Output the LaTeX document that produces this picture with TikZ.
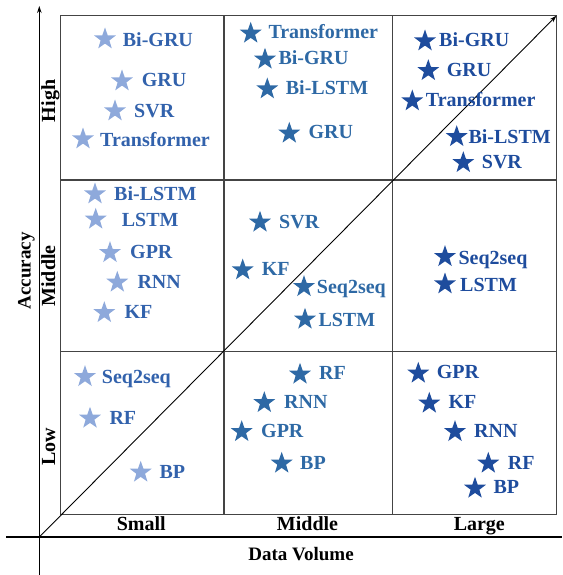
\documentclass[tikz,border=0pt]{standalone}
\usepackage{fontspec}
\setmainfont{Liberation Serif}
\usetikzlibrary{shapes.geometric,arrows.meta}
\definecolor{starA}{HTML}{8EA9DB}
\definecolor{textA}{HTML}{3262AC}
\definecolor{colB}{HTML}{2E69A5}
\definecolor{colC}{HTML}{1E4C9D}
\definecolor{gridc}{HTML}{444444}
\tikzset{
  starbase/.style={star, star points=5, star point ratio=2.5, minimum size=23pt, inner sep=0pt, draw=none},
  starA/.style={starbase, fill=starA},
  starB/.style={starbase, fill=colB},
  starC/.style={starbase, fill=colC},
  labbase/.style={anchor=west, inner sep=0pt, text height=13.2pt, text depth=0pt, font=\bfseries\fontsize{20}{20}\selectfont},
  labA/.style={labbase, text=textA},
  labB/.style={labbase, text=colB},
  labC/.style={labbase, text=colC},
  catlab/.style={inner sep=0pt, anchor=base, font=\bfseries\fontsize{20}{20}\selectfont},
  axlab/.style={inner sep=0pt, anchor=base, font=\bfseries\fontsize{19}{19}\selectfont},
  gridline/.style={draw=gridc, line width=1.1pt},
  axisline/.style={draw=black, line width=1.3pt},
  tip/.style={-{Stealth[length=7pt,width=4.5pt]}}
}
\begin{document}
\begin{tikzpicture}[x=1pt,y=-1pt]
\useasboundingbox (0,0) rectangle (562,575);
% named coordinates
\coordinate (O) at (39.3,537);
\coordinate (ytop) at (39.3,6);
\coordinate (ybot) at (39.3,575);
\coordinate (xleft) at (6,537);
\coordinate (xright) at (562,537);
\coordinate (g00) at (60.7,514.7);
\coordinate (g33) at (556.5,15.7);
% grid
\draw[gridline] (60.7,15.7) rectangle (556.5,514.7);
\draw[gridline] (224,15.7) -- (224,514.7);
\draw[gridline] (392.5,15.7) -- (392.5,514.7);
\draw[gridline] (60.7,180) -- (556.5,180);
\draw[gridline] (60.7,351.5) -- (556.5,351.5);
% axes
\draw[axisline, tip] (ybot) -- (ytop);
\draw[axisline] (xleft) -- (xright);
\draw[black, line width=0.9pt, tip] (O) -- (g33);
% axis labels
\node[axlab] (dv) at (301,560.5) {Data Volume};
\node[axlab, rotate=90] (acc) at (30.5,271) {Accuracy};
\node[catlab] (small) at (141.2,530.5) {Small};
\node[catlab] (middlex) at (307.5,530.5) {Middle};
\node[catlab] (large) at (479.3,530.5) {Large};
\node[catlab, rotate=90] (high) at (55,101) {High};
\node[catlab, rotate=90] (middley) at (55,276) {Middle};
\node[catlab, rotate=90] (low) at (55,446.5) {Low};
% column 1 (small)
\node[starA] (a1) at (105,39) {};      \node[labA] (la1) at (122.7,40) {Bi-GRU};
\node[starA] (a2) at (122,81) {};      \node[labA] (la2) at (141.7,80) {GRU};
\node[starA] (a3) at (115,111) {};     \node[labA] (la3) at (134,110.7) {SVR};
\node[starA] (a4) at (83,139) {};      \node[labA] (la4) at (100,140) {Transformer};
\node[starA] (a5) at (95,194) {};      \node[labA] (la5) at (114,194) {Bi-LSTM};
\node[starA] (a6) at (95.7,219.3) {};  \node[labA] (la6) at (121.7,220) {LSTM};
\node[starA] (a7) at (110,252.7) {};   \node[labA] (la7) at (130,251.7) {GPR};
\node[starA] (a8) at (117.3,282.3) {}; \node[labA] (la8) at (137.3,281.7) {RNN};
\node[starA] (a9) at (104.3,312.7) {}; \node[labA] (la9) at (124.3,311.7) {KF};
\node[starA] (a10) at (85,376.7) {};   \node[labA] (la10) at (101.7,376.5) {Seq2seq};
\node[starA] (a11) at (90,418.3) {};   \node[labA] (la11) at (109.3,418.3) {RF};
\node[starA] (a12) at (140.7,472.3) {};\node[labA] (la12) at (159.3,471.7) {BP};
% column 2 (middle)
\node[starB] (b1) at (250.7,33.3) {};  \node[labB] (lb1) at (268.3,31.7) {Transformer};
\node[starB] (b2) at (265,59.3) {};    \node[labB] (lb2) at (278.3,58.3) {Bi-GRU};
\node[starB] (b3) at (267.3,89) {};    \node[labB] (lb3) at (285.7,87.7) {Bi-LSTM};
\node[starB] (b4) at (289.3,133.3) {}; \node[labB] (lb4) at (308.3,131.7) {GRU};
\node[starB] (b5) at (260,222.3) {};   \node[labB] (lb5) at (279,221.7) {SVR};
\node[starB] (b6) at (242.7,270) {};   \node[labB] (lb6) at (261.7,269.3) {KF};
\node[starB] (b7) at (304,286.7) {};   \node[labB] (lb7) at (316.7,287.3) {Seq2seq};
\node[starB] (b8) at (305,319.3) {};   \node[labB] (lb8) at (318.3,320) {LSTM};
\node[starB] (b9) at (300,374.3) {};   \node[labB] (lb9) at (319,373.3) {RF};
\node[starB] (b10) at (264.3,402.7) {};\node[labB] (lb10) at (284,401.7) {RNN};
\node[starB] (b11) at (241.7,431.7) {};\node[labB] (lb11) at (261,431) {GPR};
\node[starB] (b12) at (281.7,463.3) {};\node[labB] (lb12) at (300,462.7) {BP};
% column 3 (large)
\node[starC] (c1) at (425,41) {};      \node[labC] (lc1) at (439,40) {Bi-GRU};
\node[starC] (c2) at (428.3,70.7) {};  \node[labC] (lc2) at (446.7,70) {GRU};
\node[starC] (c3) at (412.3,101) {};   \node[labC] (lc3) at (425.7,100) {Transformer};
\node[starC] (c4) at (456.7,136.7) {}; \node[labC] (lc4) at (468.3,136.7) {Bi-LSTM};
\node[starC] (c5) at (463.3,162.7) {}; \node[labC] (lc5) at (481.7,161.7) {SVR};
\node[starC] (c6) at (445,256.7) {};   \node[labC] (lc6) at (458.3,257.5) {Seq2seq};
\node[starC] (c7) at (445,284) {};     \node[labC] (lc7) at (460,285) {LSTM};
\node[starC] (c8) at (418.3,373.3) {}; \node[labC] (lc8) at (436.7,372.3) {GPR};
\node[starC] (c9) at (429.3,403.3) {}; \node[labC] (lc9) at (448.3,402.3) {KF};
\node[starC] (c10) at (455,431.7) {};  \node[labC] (lc10) at (474,430.7) {RNN};
\node[starC] (c11) at (488.3,463.3) {};\node[labC] (lc11) at (507.7,462.7) {RF};
\node[starC] (c12) at (475,488.3) {};  \node[labC] (lc12) at (493.3,486.7) {BP};
\end{tikzpicture}
\end{document}
